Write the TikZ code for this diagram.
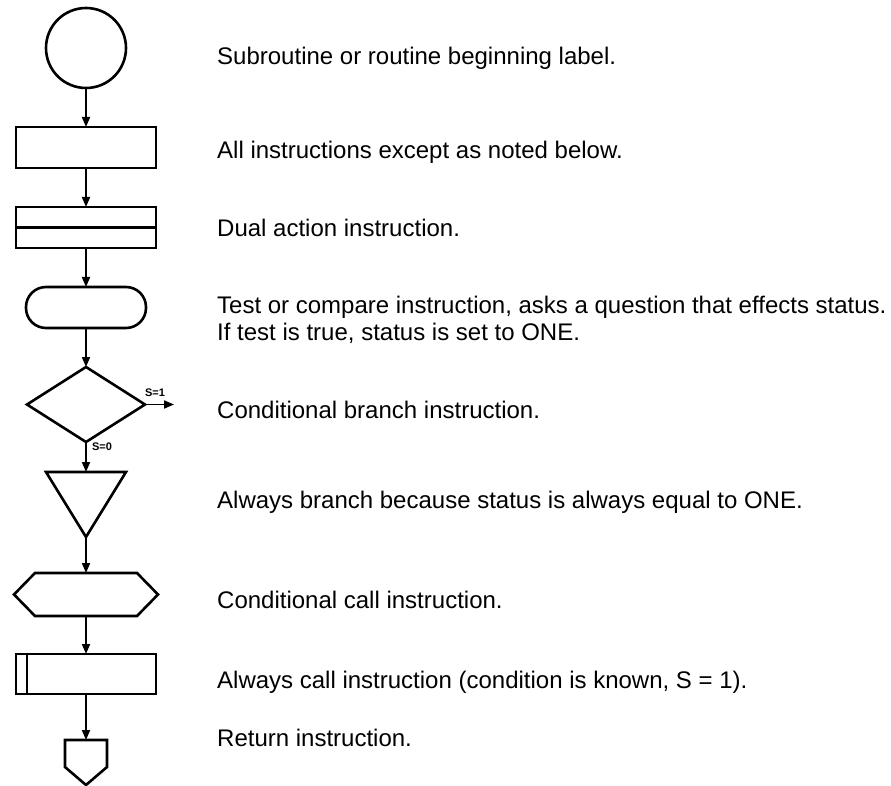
\documentclass[tikz,border=0pt]{standalone}
\usepackage{fontspec}
\setmainfont{Liberation Sans}
\usetikzlibrary{arrows.meta,shapes.geometric}
\tikzset{
  shp/.style={draw, line width=2.6pt, inner sep=0pt, outer sep=0pt},
  shpline/.style={line width=2.6pt, line join=miter},
  conn/.style={line width=1.8pt, -{Triangle[length=10pt,width=8pt]}},
  desc/.style={anchor=base west, inner sep=0pt, font=\fontsize{24}{28}\selectfont},
  slab/.style={inner sep=0pt, font=\fontsize{11}{12}\selectfont\bfseries}
}
\begin{document}
\begin{tikzpicture}[x=1pt,y=-1pt]
\useasboundingbox (0,0) rectangle (891,786);

% shapes
\node[shp, circle, minimum size=80pt] (start) at (86,48) {};
\node[shp, rectangle, minimum width=140pt, minimum height=41pt] (instr) at (86,147.5) {};
\node[shp, rectangle, minimum width=140pt, minimum height=41pt] (dual) at (86,227.5) {};
\draw[shpline] (dual.west) -- (dual.east);
\node[shp, rectangle, rounded corners=20pt, minimum width=120pt, minimum height=41pt] (test) at (86,307.5) {};
\node[shp, diamond, minimum width=118pt, minimum height=75pt] (cond) at (86,404.5) {};
\coordinate (s1end) at (174,404.5);

\coordinate (tritop) at (86,472);
\coordinate (triapex) at (86,537);
\draw[shpline] (46,472) -- (126,472) -- (triapex) -- cycle;

\coordinate (hextop) at (86,573);
\coordinate (hexbot) at (86,616);
\draw[shpline] (14,594.5) -- (35,573) -- (137,573) -- (158,594.5) -- (137,616) -- (35,616) -- cycle;

\node[shp, rectangle, minimum width=140pt, minimum height=40pt] (call) at (86,674) {};
\draw[shpline] ([xshift=11pt]call.north west) -- ([xshift=11pt]call.south west);

\coordinate (rettop) at (86,740);
\draw[shpline] (65,740) -- (107,740) -- (107,767) -- (86,785) -- (65,767) -- cycle;

% connectors
\draw[conn] (start.south) -- (instr.north);
\draw[conn] (instr.south) -- (dual.north);
\draw[conn] (dual.south) -- (test.north);
\draw[conn] (test.south) -- (cond.north);
\draw[conn] (cond.east) -- (s1end);
\draw[conn] (cond.south) -- (tritop);
\draw[conn] (triapex) -- (hextop);
\draw[conn] (hexbot) -- (call.north);
\draw[conn] (call.south) -- (rettop);

% labels
\node[slab] (s1) at (155,393) {S=1};
\node[slab] (s0) at (102,447) {S=0};

% descriptions
\node[desc] (t1) at (217,65) {Subroutine or routine beginning label.};
\node[desc] (t2) at (217,159) {All instructions except as noted below.};
\node[desc] (t3) at (217,237) {Dual action instruction.};
\node[desc] (t4) at (217,313) {Test or compare instruction, asks a question that effects status.};
\node[desc] (t5) at (217,340) {If test is true, status is set to ONE.};
\node[desc] (t6) at (217,418) {Conditional branch instruction.};
\node[desc] (t7) at (217,508) {Always branch because status is always equal to ONE.};
\node[desc] (t8) at (217,608) {Conditional call instruction.};
\node[desc] (t9) at (217,688) {Always call instruction (condition is known, S = 1).};
\node[desc] (t10) at (217,746) {Return instruction.};
\end{tikzpicture}
\end{document}
